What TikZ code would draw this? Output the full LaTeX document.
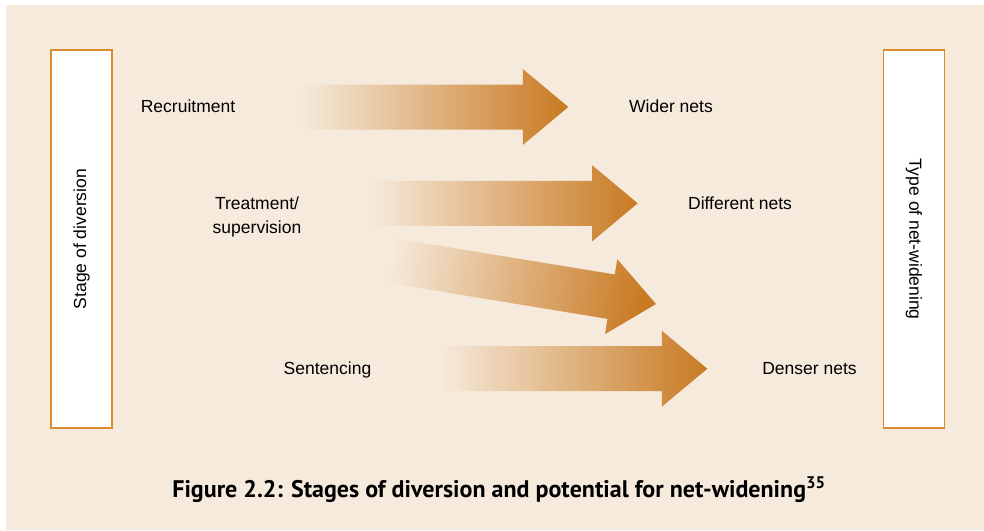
\documentclass[tikz,border=0pt]{standalone}
\usepackage{fontspec}
\setmainfont{Liberation Sans}
\newfontfamily\capfont{PT Sans}
\definecolor{bgc}{HTML}{F6EADC}
\definecolor{arrc}{HTML}{C87A22}
\definecolor{boxc}{HTML}{DC8B2C}
\newcommand\blockarr[5]{% tip x, tip y, shaft length, rotation, shading angle
  \begin{scope}[shift={(#1,#2)}, rotate=#4]
    \shade[left color=bgc, right color=arrc, shading angle=#5]
      (-45.5-#3,-22.5) -- (-45.5,-22.5) -- (-45.5,-38) -- (0,0) --
      (-45.5,38) -- (-45.5,22.5) -- (-45.5-#3,22.5) -- cycle;
  \end{scope}}
\begin{document}
\begin{tikzpicture}[x=1pt,y=-1pt,
  sidebox/.style={draw=boxc, line width=1.2pt, fill=white, minimum width=378pt,
    minimum height=61pt, inner sep=0pt, font=\fontsize{17.5}{21}\selectfont},
  lbl/.style={font=\fontsize{17.5}{24}\selectfont, align=center, inner sep=0pt}]
  \useasboundingbox (0,0) rectangle (984,530);
  \fill[white] (0,0) rectangle (984,530);
  \fill[bgc] (6,5) rectangle (984,530);
  % boxes
  \node[sidebox, rotate=90] (stage) at (81.5,239) {Stage of diversion};
  \node[sidebox, rotate=-90] (type) at (913.8,239) {Type of net-widening};
  % arrows
  \blockarr{568.3}{107}{222}{0}{90}
  \blockarr{637.7}{203.3}{222}{0}{90}
  \blockarr{656}{304}{236}{-9.3}{80.7}
  \blockarr{707.3}{368.7}{222}{0}{90}
  % labels
  \node[lbl] (recr) at (188,106.5) {Recruitment};
  \node[lbl] (treat) at (257,216.5) {Treatment/\\supervision};
  \node[lbl] (sent) at (327.5,369.5) {Sentencing};
  \node[lbl] (wider) at (671,106.5) {Wider nets};
  \node[lbl] (diff) at (740,203.5) {Different nets};
  \node[lbl] (dense) at (809.5,368.5) {Denser nets};
  % caption
  \node[inner sep=0pt, font=\capfont\bfseries\fontsize{24}{28}\selectfont] (cap) at (499,490)
    {Figure 2.2: Stages of diversion and potential for net-widening\textsuperscript{35}};
\end{tikzpicture}
\end{document}
